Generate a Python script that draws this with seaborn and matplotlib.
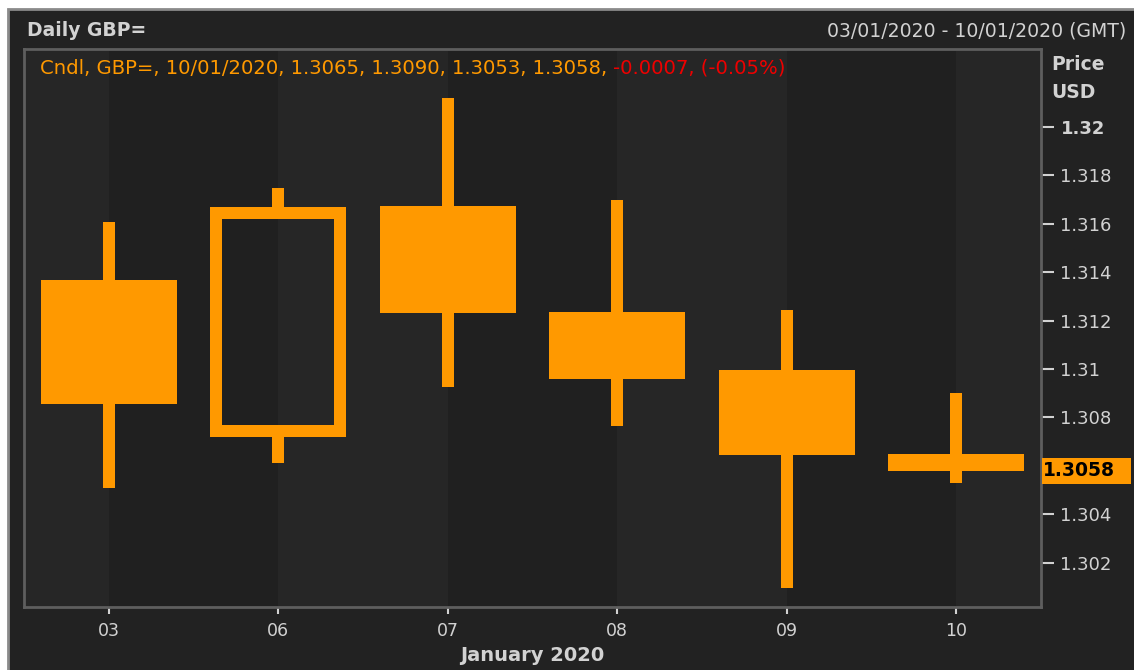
import matplotlib
matplotlib.use('Agg')
import matplotlib.pyplot as plt
import seaborn as sns
from matplotlib.patches import Rectangle

# daily GBP= candles, 3-10 Jan 2020
days = ['03', '06', '07', '08', '09', '10']
opens = [1.31368, 1.30719, 1.31674, 1.31236, 1.30996, 1.3065]
highs = [1.31607, 1.31748, 1.32120, 1.31698, 1.31244, 1.3090]
lows = [1.30508, 1.30612, 1.30926, 1.30764, 1.30095, 1.3053]
closes = [1.30855, 1.31669, 1.31231, 1.30959, 1.30645, 1.3058]
yticks = [1.302, 1.304, 1.308, 1.31, 1.312, 1.314, 1.316, 1.318, 1.32]
ytick_labels = ['1.302', '1.304', '1.308', '1.31', '1.312', '1.314', '1.316', '1.318', '1.32']
last_price = '1.3058'

sns.set_theme(style='dark')
plt.rcParams['font.family'] = ['DejaVu Sans']

ORANGE = '#ff9900'
BG = '#222222'
GREY_TXT = '#d2d2d2'

W, H = 1134, 670
fig = plt.figure(figsize=(W / 100, H / 100), dpi=100, facecolor='white')
# dark panel, frame only visible on top and left
fig.patches.append(Rectangle((8 / W, -0.05), 1.05, 1.05 - 9 / H, transform=fig.transFigure,
                             facecolor=BG, edgecolor='#8a8a8a', linewidth=2, zorder=-10))

ax = fig.add_axes([24 / W, 1 - 607 / H, 1017 / W, 558 / H])
ax.set_facecolor('#262626')
ymin, ymax = 1.30017, 1.32322
ax.set_xlim(-0.5, len(days) - 0.5)
ax.set_ylim(ymin, ymax)

# alternating column shading, boundaries on the day ticks
for i in range(-1, len(days)):
    ax.axvspan(i, i + 1, color='#262626' if i % 2 else '#202020', lw=0, zorder=0)

px_x = 1017 / len(days)
px_y = 558 / (ymax - ymin)
wick_w = 12 / px_x
body_w = 0.8

for i in range(len(days)):
    o, h, l, c = opens[i], highs[i], lows[i], closes[i]
    top, bot = max(o, c), min(o, c)
    ax.bar(i, h - top, bottom=top, width=wick_w, color=ORANGE, lw=0, zorder=2)
    ax.bar(i, bot - l, bottom=l, width=wick_w, color=ORANGE, lw=0, zorder=2)
    if c < o:
        ax.bar(i, top - bot, bottom=bot, width=body_w, color=ORANGE, lw=0, zorder=3)
    else:
        dx, dy = 6 / px_x, 6 / px_y
        ax.add_patch(Rectangle((i - body_w / 2 + dx, bot + dy), body_w - 2 * dx, top - bot - 2 * dy,
                               facecolor='none', edgecolor=ORANGE, lw=12 * 0.72,
                               joinstyle='miter', zorder=3))

for s in ax.spines.values():
    s.set_color('#5e5e5e')
    s.set_linewidth(2)
    s.set_visible(True)

ax.set_xticks(range(len(days)))
ax.set_xticklabels(days)
ax.tick_params(axis='x', colors=GREY_TXT, labelsize=12.5, length=5, width=1.5, pad=6,
               bottom=True, direction='out')
ax.yaxis.tick_right()
ax.set_yticks(yticks)
ax.set_yticklabels(ytick_labels)
ax.tick_params(axis='y', colors=GREY_TXT, labelsize=13, length=9, width=1.5, pad=5,
               right=True, direction='out')
for lab in ax.get_yticklabels():
    if lab.get_text() == '1.32':
        lab.set_fontweight('bold')
ax.grid(False)

# last price marker on the price axis
fig.patches.append(Rectangle((1042 / W, 1 - 484 / H), 89 / W, 26 / H, transform=fig.transFigure,
                             facecolor=ORANGE, edgecolor='none', zorder=5))
fig.text(1043 / W, 1 - 471 / H, last_price, fontsize=13.5, fontweight='bold', color='black',
         va='center', ha='left', zorder=6)

ax.set_xlabel('January 2020', fontsize=14, fontweight='bold', color=GREY_TXT, labelpad=4)

fig.text(27 / W, 1 - 31 / H, 'Daily GBP=', fontsize=13.5, fontweight='bold', color=GREY_TXT,
         va='center', ha='left')
fig.text(1126 / W, 1 - 31 / H, '03/01/2020 - 10/01/2020 (GMT)', fontsize=13.6, color=GREY_TXT,
         va='center', ha='right')
fig.text(1051 / W, 1 - 64 / H, 'Price', fontsize=13.5, fontweight='bold', color=GREY_TXT,
         va='center', ha='left')
fig.text(1051 / W, 1 - 92 / H, 'USD', fontsize=13.5, fontweight='bold', color=GREY_TXT,
         va='center', ha='left')

t1 = fig.text(40 / W, 1 - 68 / H, 'Cndl, GBP=, 10/01/2020, 1.3065, 1.3090, 1.3053, 1.3058, ',
              fontsize=14.1, color=ORANGE, va='center', ha='left')
fig.canvas.draw()
bb = t1.get_window_extent()
fig.text(bb.x1 / W, 1 - 68 / H, '-0.0007, (-0.05%)', fontsize=14.1, color='#ee0000',
         va='center', ha='left')

fig.savefig('out.png', dpi=100, facecolor=fig.get_facecolor())
